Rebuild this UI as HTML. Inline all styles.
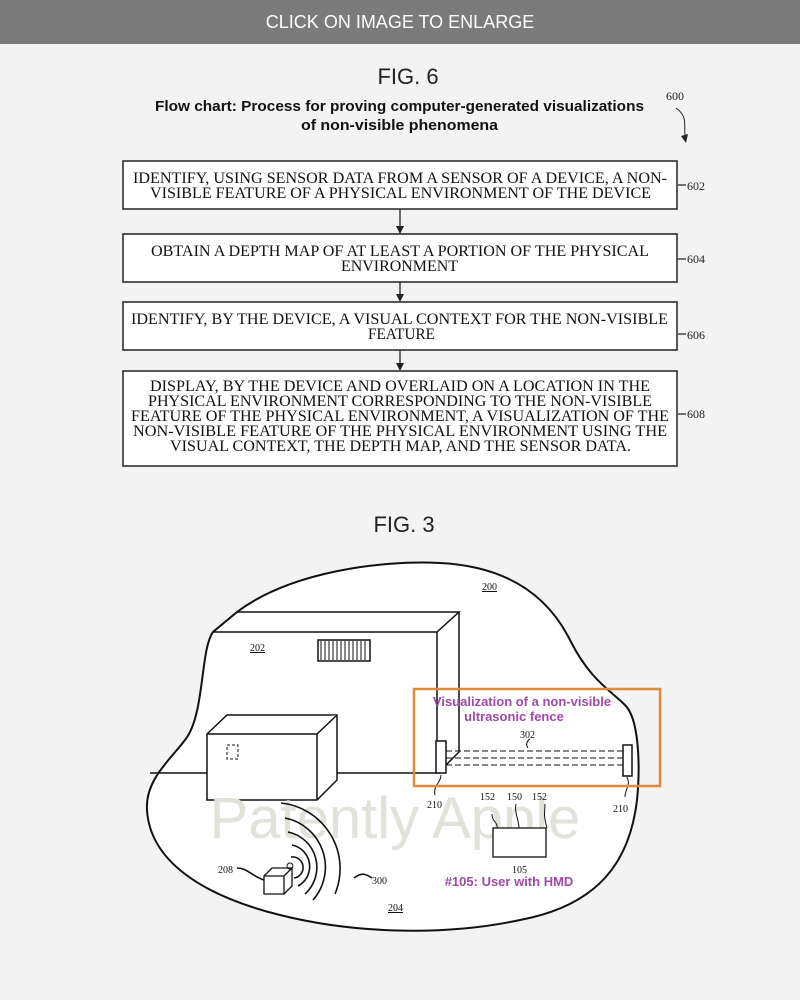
<!DOCTYPE html>
<html><head><style>
body{margin:0;width:800px;height:995px;background:#f3f3f3;font-family:"Liberation Serif",serif;overflow:hidden}
</style></head><body>
<svg width="800" height="995" xmlns="http://www.w3.org/2000/svg">
<rect x="0" y="0" width="800" height="44" fill="#7b7b7b"/>
<text x="400" y="28" text-anchor="middle" font-family="Liberation Sans" font-size="18" fill="#fff">CLICK ON IMAGE TO ENLARGE</text>
<text x="408" y="84" text-anchor="middle" font-family="Liberation Sans" font-size="22" fill="#222">FIG. 6</text>
<text x="155" y="111" textLength="489" lengthAdjust="spacingAndGlyphs" font-family="Liberation Sans" font-weight="bold" font-size="15" fill="#111">Flow chart: Process for proving computer-generated visualizations</text>
<text x="301" y="130" textLength="197" lengthAdjust="spacingAndGlyphs" font-family="Liberation Sans" font-weight="bold" font-size="15" fill="#111">of non-visible phenomena</text>
<text x="666" y="100" font-size="12" fill="#222">600</text>
<path d="M676 108 C690 118,682 128,686 140" fill="none" stroke="#222"/>
<path d="M681 136 L686 143 L688 134 Z" fill="#222"/>
<g fill="#fff" stroke="#222" stroke-width="1.5">
<rect x="123" y="161" width="554" height="48"/>
<rect x="123" y="234" width="554" height="48"/>
<rect x="123" y="302" width="554" height="48"/>
<rect x="123" y="371" width="554" height="95"/>
</g>
<g stroke="#222" stroke-width="1.3">
<line x1="400" y1="209" x2="400" y2="228"/><line x1="400" y1="282" x2="400" y2="296"/><line x1="400" y1="350" x2="400" y2="365"/>
<path d="M678 185 h8 M678 259 h8 M678 334 h8 M678 414 h8" fill="none"/>
</g>
<g fill="#222"><path d="M396 226 L404 226 L400 234Z"/><path d="M396 294 L404 294 L400 302Z"/><path d="M396 363 L404 363 L400 371Z"/></g>
<g font-size="12" fill="#222"><text x="687" y="190">602</text><text x="687" y="263">604</text><text x="687" y="339">606</text><text x="687" y="418">608</text></g>
<g font-size="16" fill="#111" lengthAdjust="spacingAndGlyphs">
<text x="133" y="183" textLength="534" lengthAdjust="spacingAndGlyphs">IDENTIFY, USING SENSOR DATA FROM A SENSOR OF A DEVICE, A NON-</text>
<text x="150" y="198" textLength="501" lengthAdjust="spacingAndGlyphs">VISIBLE FEATURE OF A PHYSICAL ENVIRONMENT OF THE DEVICE</text>
<text x="151" y="256" textLength="498" lengthAdjust="spacingAndGlyphs">OBTAIN A DEPTH MAP OF AT LEAST A PORTION OF THE PHYSICAL</text>
<text x="341" y="271" textLength="117" lengthAdjust="spacingAndGlyphs">ENVIRONMENT</text>
<text x="131" y="324" textLength="537" lengthAdjust="spacingAndGlyphs">IDENTIFY, BY THE DEVICE, A VISUAL CONTEXT FOR THE NON-VISIBLE</text>
<text x="368" y="339" textLength="67" lengthAdjust="spacingAndGlyphs">FEATURE</text>
<text x="150" y="391" textLength="500" lengthAdjust="spacingAndGlyphs">DISPLAY, BY THE DEVICE AND OVERLAID ON A LOCATION IN THE</text>
<text x="148" y="406" textLength="504" lengthAdjust="spacingAndGlyphs">PHYSICAL ENVIRONMENT CORRESPONDING TO THE NON-VISIBLE</text>
<text x="131" y="421" textLength="538" lengthAdjust="spacingAndGlyphs">FEATURE OF THE PHYSICAL ENVIRONMENT, A VISUALIZATION OF THE</text>
<text x="133" y="436" textLength="534" lengthAdjust="spacingAndGlyphs">NON-VISIBLE FEATURE OF THE PHYSICAL ENVIRONMENT USING THE</text>
<text x="170" y="451" textLength="461" lengthAdjust="spacingAndGlyphs">VISUAL CONTEXT, THE DEPTH MAP, AND THE SENSOR DATA.</text>
</g>
<text x="404" y="532" text-anchor="middle" font-family="Liberation Sans" font-size="22" fill="#222">FIG. 3</text>
<!-- blob -->
<path d="M237 612 C290 572,380 560,440 563 C500 566,545 590,570 640 C590 680,610 690,625 705 C640 720,640 770,637 800 C630 860,600 905,520 920 C450 935,360 935,280 915 C200 895,150 860,147 810 C145 780,170 760,185 740 C205 715,200 650,213 632 Z" fill="#fff" stroke="#111" stroke-width="2"/>
<g fill="#fff" stroke="#111" stroke-width="1.5">
<path d="M213 632 L437 632 L459 612 L237 612" fill="none"/>
<path d="M437 632 L437 773 M459 612 L459 752 L441 770" fill="none"/>
<line x1="150" y1="773" x2="207" y2="773"/>
<line x1="317" y1="773" x2="441" y2="773"/>
<path d="M207 734 L227 715 L337 715 L337 780 L317 800 L207 800 Z"/>
<path d="M207 734 L317 734 L337 715 M317 734 L317 800"/>
<rect x="318" y="640" width="52" height="21"/>
</g>
<path d="M321 641 v19 M325 641 v19 M329 641 v19 M333 641 v19 M337 641 v19 M341 641 v19 M345 641 v19 M349 641 v19 M353 641 v19 M357 641 v19 M361 641 v19 M365 641 v19" stroke="#111"/>
<rect x="227" y="745" width="11" height="14" fill="none" stroke="#111" stroke-dasharray="3,2"/>
<text x="395" y="838" text-anchor="middle" font-family="Liberation Sans" font-size="58" fill="#e2e2da">Patently Apple</text>
<g font-size="10" fill="#111">
<text x="482" y="590" text-decoration="underline">200</text>
<text x="250" y="651" text-decoration="underline">202</text>
<text x="388" y="911" text-decoration="underline">204</text>
<text x="520" y="738">302</text>
<text x="427" y="808">210</text><text x="613" y="812">210</text>
<text x="480" y="800">152</text><text x="507" y="800">150</text><text x="532" y="800">152</text>
<text x="512" y="873">105</text>
<text x="218" y="873">208</text><text x="372" y="884">300</text>
</g>
<!-- fence -->
<rect x="436" y="741" width="10" height="32" fill="#fff" stroke="#111" stroke-width="1.5"/>
<rect x="623" y="745" width="9" height="31" fill="#fff" stroke="#111" stroke-width="1.5"/>
<g stroke="#111" stroke-dasharray="6,3"><line x1="446" y1="751" x2="623" y2="751"/><line x1="446" y1="758" x2="623" y2="758"/><line x1="446" y1="765" x2="623" y2="765"/></g>
<path d="M528 748 c-3 -4,0 -8,2 -9" fill="none" stroke="#111"/>
<rect x="493" y="828" width="53" height="29" fill="#fff" stroke="#111" stroke-width="1.3"/>
<path d="M492 814 c0 8,6 8,5 14 M516 804 c-2 8,3 16,3 24 M545 804 c0 8,-2 10,2 24 M441 775 c0 8,-8 10,-6 20 M627 777 c4 8,-2 12,-2 20" fill="none" stroke="#111"/>
<!-- 208 device and waves -->
<path d="M264 876 L272 868 L292 868 L292 886 L284 894 L264 894 Z M264 876 L284 876 L292 868 M284 876 L284 894" fill="#fff" stroke="#111" stroke-width="1.3"/>
<circle cx="290" cy="866" r="3" fill="none" stroke="#111"/>
<g fill="none" stroke="#111" stroke-width="1.6">
<path d="M291 857 A10 10 0 0 1 294 878"/>
<path d="M292 845 A22 22 0 0 1 298 886"/>
<path d="M288 832 A36 36 0 0 1 305 894"/>
<path d="M285 818 A50 50 0 0 1 313 900"/>
<path d="M281 803 A66 66 0 0 1 335 894"/>
<path d="M237 868 c10 0,15 8,27 12 M354 878 c8 -6,12 -4,18 0"/>
</g>
<rect x="414" y="689" width="246" height="97" fill="none" stroke="#e08a3c" stroke-width="2.5"/>
<g font-family="Liberation Sans" font-weight="bold" font-size="13" fill="#a04aa8" text-anchor="middle">
<text x="522" y="706">Visualization of a non-visible</text>
<text x="514" y="721">ultrasonic fence</text>
<text x="509" y="886">#105: User with HMD</text>
</g>
</svg>
</body></html>
